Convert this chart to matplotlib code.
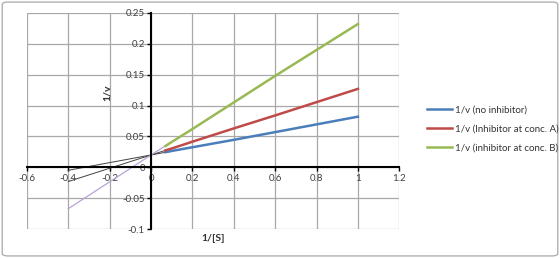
import matplotlib.pyplot as plt
from matplotlib.patches import FancyBboxPatch

plt.rcParams['font.family'] = ['Lato', 'DejaVu Sans']

# measured points (1/[S], 1/v)
inv_s = [0.07, 0.1, 0.2, 0.4, 0.6, 0.8, 1.0]
no_inhib = [0.0245, 0.0265, 0.0325, 0.0445, 0.057, 0.0695, 0.082]
inhib_a = [0.0275, 0.0305, 0.0415, 0.063, 0.084, 0.1055, 0.127]
inhib_b = [0.0345, 0.041, 0.062, 0.105, 0.148, 0.19, 0.232]

# extrapolation lines back to the x axis
ext_x = [-0.4, 0.0, 0.1]
ext_blue = [-0.0048, 0.02, 0.0262]
ext_red = [-0.023, 0.02, 0.0307]
ext_green = [-0.067, 0.02, 0.0412]

labels = ["1/v (no inhibitor)", "1/v (Inhibitor at conc. A)", "1/v (inhibitor at conc. B)"]
colors = ["#4a7ebb", "#be4b48", "#98b954"]

fig = plt.figure(figsize=(5.6, 2.58), dpi=100)
ax = fig.add_axes([0.048, 0.112, 0.665, 0.838])

ax.plot(ext_x, ext_blue, color="#404040", lw=0.7)
ax.plot(ext_x, ext_red, color="#404040", lw=0.7)
ax.plot(ext_x, ext_green, color="#b9a3d6", lw=0.9)

for y, c, lab in zip([no_inhib, inhib_a, inhib_b], colors, labels):
    ax.plot(inv_s, y, color=c, lw=1.8, label=lab)

ax.set_xlim(-0.6, 1.2)
ax.set_ylim(-0.1, 0.25)
ax.set_xticks([-0.6, -0.4, -0.2, 0, 0.2, 0.4, 0.6, 0.8, 1, 1.2])
ax.set_xticklabels(["-0.6", "-0.4", "-0.2", "0", "0.2", "0.4", "0.6", "0.8", "1", "1.2"])
ax.set_yticks([-0.1, -0.05, 0, 0.05, 0.1, 0.15, 0.2, 0.25])
ax.set_yticklabels(["-0.1", "-0.05", "0", "0.05", "0.1", "0.15", "0.2", "0.25"])
ax.grid(color="#a8a8a8", lw=0.9)
ax.set_axisbelow(True)

ax.spines["left"].set_position(("data", 0))
ax.spines["bottom"].set_position(("data", 0))
ax.spines["right"].set_visible(False)
ax.spines["top"].set_visible(False)
ax.spines["left"].set_linewidth(1.5)
ax.spines["bottom"].set_linewidth(1.5)
ax.tick_params(labelsize=7, labelcolor="#404040", length=3, width=1, direction="out", pad=1.5)

ax.text(-0.21, 0.12, "1/v", rotation=90, fontsize=7.5, fontweight="bold",
        ha="center", va="center", color="#333333")
ax.text(0.30, -0.115, "1/[S]", fontsize=7.5, fontweight="bold",
        ha="center", va="center", color="#333333")

leg = fig.legend(loc="center left", bbox_to_anchor=(0.747, 0.5), frameon=False,
                 fontsize=7, handlelength=2.6, handletextpad=0.3, labelspacing=1.0)
for t in leg.get_texts():
    t.set_color("#333333")

border = FancyBboxPatch((0.004, 0.008), 0.992, 0.984, boxstyle="round,pad=0,rounding_size=0.01",
                        transform=fig.transFigure, fill=False, ec="#b0b0b0", lw=1)
fig.patches.append(border)

fig.savefig("out.png", dpi=100)
